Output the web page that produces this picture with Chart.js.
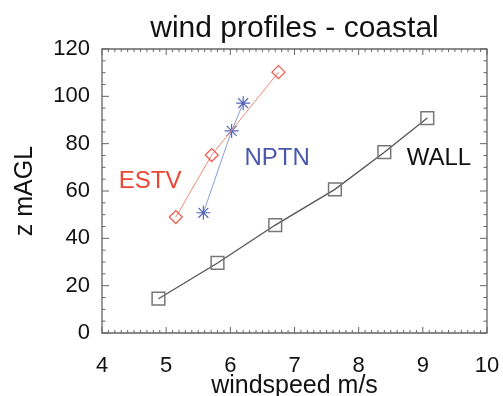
<!DOCTYPE html>
<html>
<head>
<meta charset="utf-8">
<script src="https://cdn.jsdelivr.net/npm/chart.js@4.4.1/dist/chart.umd.min.js"></script>
<style>
  html, body { margin: 0; padding: 0; background: #fff; }
</style>
</head>
<body>
<canvas id="chart" width="503" height="396"></canvas>
<script>
// ── Data (windspeed m/s, height m AGL) ─────────────────────
const wallSpeed = [4.88, 5.80, 6.70, 7.63, 8.40, 9.07];
const wallZ     = [14.5, 29.6, 45.6, 60.7, 76.4, 90.8];
const estvSpeed = [5.15, 5.71, 6.75];
const estvZ     = [49.0, 75.2, 110.2];
const nptnSpeed = [5.58, 6.02, 6.20];
const nptnZ     = [50.8, 85.4, 97.1];

const xTicks = [4, 5, 6, 7, 8, 9, 10];
const yTicks = [0, 20, 40, 60, 80, 100, 120];

// series name labels, placed in data coordinates
const labelNames = ['ESTV', 'NPTN', 'WALL'];
const labelX     = [4.75, 6.73, 9.25];
const labelY     = [63.9, 73.8, 73.8];
const labelCols  = ['#ee4433', '#4a58aa', '#111111'];

const FONT = "'Liberation Sans', Arial, Helvetica, sans-serif";
const AXIS = '#666666';

const pts = (xs, ys) => xs.map((x, i) => ({ x, y: ys[i] }));

// ── IDL-style frame with inward ticks ──────────────────────
const frameTicks = {
  id: 'frameTicks',
  afterDraw(chart) {
    const { ctx, scales: { x, y } } = chart;
    const L = x.getPixelForValue(4), R = x.getPixelForValue(10);
    const T = y.getPixelForValue(120), B = y.getPixelForValue(0);
    ctx.save();
    ctx.strokeStyle = AXIS;
    ctx.lineWidth = 1.3;
    ctx.beginPath();
    ctx.moveTo(L, T); ctx.lineTo(R, T); ctx.lineTo(R, B);
    ctx.lineTo(L, B); ctx.closePath();
    ctx.stroke();
    ctx.lineWidth = 1;
    ctx.beginPath();
    for (let i = 0; i <= 60; i++) {
      const px = x.getPixelForValue(4 + i / 10);
      const len = i % 10 === 0 ? 6 : 3;
      ctx.moveTo(px, B); ctx.lineTo(px, B - len);
      ctx.moveTo(px, T); ctx.lineTo(px, T + len);
    }
    for (let i = 0; i <= 24; i++) {
      const py = y.getPixelForValue(i * 5);
      const len = i % 4 === 0 ? 7 : 3.5;
      ctx.moveTo(L, py); ctx.lineTo(L + len, py);
      ctx.moveTo(R, py); ctx.lineTo(R - len, py);
    }
    ctx.stroke();

    ctx.font = '24px ' + FONT;
    ctx.textAlign = 'center';
    ctx.textBaseline = 'middle';
    labelNames.forEach((name, i) => {
      ctx.fillStyle = labelCols[i];
      ctx.fillText(name, x.getPixelForValue(labelX[i]), y.getPixelForValue(labelY[i]));
    });
    ctx.restore();
  }
};

new Chart(document.getElementById('chart'), {
  type: 'scatter',
  data: {
    datasets: [
      { label: 'WALL', data: pts(wallSpeed, wallZ), showLine: true,
        borderColor: '#555555', borderWidth: 1.3,
        pointStyle: 'rect', pointRadius: 9, pointBorderColor: '#777777',
        pointBorderWidth: 1.5, pointBackgroundColor: 'rgba(0,0,0,0)' },
      { label: 'ESTV', data: pts(estvSpeed, estvZ), showLine: true,
        borderColor: '#f28878', borderWidth: 1,
        pointStyle: 'rectRot', pointRadius: 6.5, pointBorderColor: '#f05a48',
        pointBorderWidth: 1.2, pointBackgroundColor: 'rgba(0,0,0,0)' },
      { label: 'NPTN', data: pts(nptnSpeed, nptnZ), showLine: true,
        borderColor: '#8c9ad8', borderWidth: 1,
        pointStyle: 'star', pointRadius: 7, pointBorderColor: '#5566bb',
        pointBorderWidth: 1.2, pointBackgroundColor: 'rgba(0,0,0,0)' }
    ]
  },
  options: {
    responsive: false,
    animation: false,
    layout: { padding: { top: 11, right: 16, bottom: 0, left: 0 } },
    plugins: {
      legend: { display: false },
      tooltip: { enabled: false },
      title: {
        display: true, fullSize: false,
        text: 'wind profiles - coastal',
        color: '#111', font: { family: FONT, size: 30, weight: 'normal' },
        padding: { top: 0, bottom: 2 }
      }
    },
    scales: {
      x: {
        type: 'linear', min: 4, max: 10,
        afterBuildTicks: s => { s.ticks = xTicks.map(v => ({ value: v })); },
        afterFit: s => { s.height = 63; s.paddingLeft = 0; s.paddingRight = 0; },
        grid: { display: false, drawTicks: false }, border: { display: false },
        ticks: { color: '#111', padding: 20, maxRotation: 0, font: { family: FONT, size: 22 } },
        title: { display: true, text: 'windspeed m/s', color: '#111',
                 padding: { top: 0, bottom: 0 },
                 font: { family: FONT, size: 25, lineHeight: 0.8 } }
      },
      y: {
        type: 'linear', min: 0, max: 120,
        afterBuildTicks: s => { s.ticks = yTicks.map(v => ({ value: v })); },
        afterFit: s => { s.width = 102; s.paddingTop = 0; s.paddingBottom = 0; },
        grid: { display: false, drawTicks: false }, border: { display: false },
        ticks: { color: '#111', padding: 12, font: { family: FONT, size: 22 } },
        title: { display: true, text: 'z mAGL', color: '#111',
                 padding: { top: 10, bottom: 0 }, font: { family: FONT, size: 25 } }
      }
    }
  },
  plugins: [frameTicks]
});
</script>
</body>
</html>
